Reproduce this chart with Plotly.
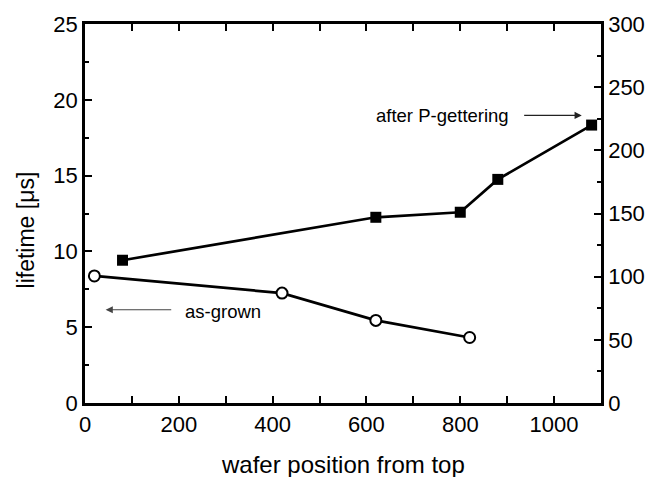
import plotly.graph_objects as go

# as-grown lifetimes (left axis, microseconds)
asgrown_pos = [20, 420, 620, 820]
asgrown_life = [8.38, 7.25, 5.45, 4.32]

# after P-gettering (right axis)
gettered_pos = [80, 620, 800, 880, 1080]
gettered_life = [113, 147, 151, 177, 220]

x_ticks = [0, 200, 400, 600, 800, 1000]
y_ticks = [0, 5, 10, 15, 20, 25]
y2_ticks = [0, 50, 100, 150, 200, 250, 300]

x_title = "wafer position from top"
y_title = "lifetime [μs]"

FONT = "Liberation Sans, Arial, sans-serif"

fig = go.Figure()
fig.add_trace(go.Scatter(
    x=asgrown_pos, y=asgrown_life, mode="lines+markers", name="as-grown",
    line=dict(color="black", width=2.7),
    marker=dict(symbol="circle", size=11, color="white",
                line=dict(color="black", width=2)),
    yaxis="y"))
fig.add_trace(go.Scatter(
    x=gettered_pos, y=gettered_life, mode="lines+markers", name="after P-gettering",
    line=dict(color="black", width=2.7),
    marker=dict(symbol="square", size=11, color="black",
                line=dict(color="black", width=0)),
    yaxis="y2"))

axis_common = dict(
    showline=True, linecolor="black", linewidth=2.5,
    ticks="inside", ticklen=7, tickwidth=2, tickcolor="black",
    showgrid=False, zeroline=False,
    tickfont=dict(family=FONT, size=22, color="black"),
)

fig.update_layout(
    width=657, height=477,
    margin=dict(l=85, r=50, t=21, b=74),
    paper_bgcolor="white", plot_bgcolor="white",
    showlegend=False,
    font=dict(family=FONT, color="black"),
    xaxis=dict(
        range=[0, 1100], tickvals=x_ticks, mirror="allticks",
        minor=dict(dtick=100, ticklen=4, tickwidth=2, ticks="inside", tickcolor="black"),
        **axis_common),
    yaxis=dict(
        range=[0, 25], tickvals=y_ticks,
        minor=dict(dtick=2.5, ticklen=4, tickwidth=2, ticks="inside", tickcolor="black"),
        **axis_common),
    yaxis2=dict(
        range=[0, 300], tickvals=y2_ticks, overlaying="y", side="right",
        minor=dict(dtick=25, ticklen=4, tickwidth=2, ticks="inside", tickcolor="black"),
        **axis_common),
)

# axis titles
fig.add_annotation(text=x_title, xref="paper", yref="paper", x=0.5, y=-0.163,
                   xanchor="center", yanchor="middle", showarrow=False,
                   font=dict(family=FONT, size=24, color="black"))
fig.add_annotation(text=y_title, xref="paper", yref="paper", x=-0.115, y=0.457,
                   xanchor="center", yanchor="middle", textangle=-90, showarrow=False,
                   font=dict(family=FONT, size=23, color="black"))

# series labels with arrows
fig.add_annotation(text="after P-gettering", x=762, y=18.97, xref="x", yref="y",
                   showarrow=False, font=dict(family=FONT, size=18.5, color="black"))
fig.add_annotation(text="", x=1059, y=18.97, ax=933, ay=18.97,
                   xref="x", yref="y", axref="x", ayref="y",
                   showarrow=True, arrowhead=2, arrowsize=1.2, arrowwidth=1.2,
                   arrowcolor="#222")
fig.add_annotation(text="as-grown", x=295, y=6.05, xref="x", yref="y",
                   showarrow=False, font=dict(family=FONT, size=18.5, color="black"))
fig.add_annotation(text="", x=44, y=6.15, ax=187, ay=6.15,
                   xref="x", yref="y", axref="x", ayref="y",
                   showarrow=True, arrowhead=2, arrowsize=1.2, arrowwidth=1.2,
                   arrowcolor="#444")

fig.write_html("out.html")
